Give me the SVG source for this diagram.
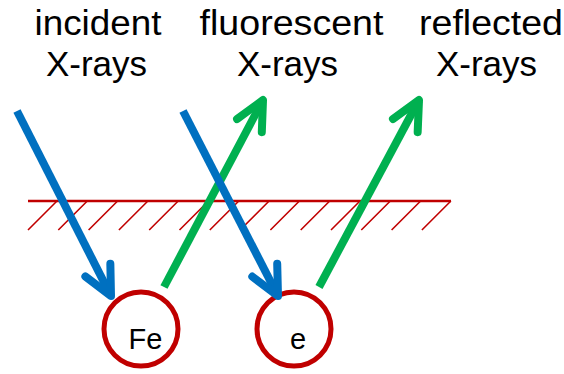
<svg xmlns="http://www.w3.org/2000/svg" width="564" height="374" viewBox="0 0 564 374">
<style>
.lbl{font-family:"Liberation Sans",Arial,sans-serif;font-size:35px;fill:#000;text-anchor:middle}
.atom{font-family:"Liberation Sans",Arial,sans-serif;font-size:29px;fill:#000;text-anchor:middle}
.hatch{stroke:#C00000;stroke-width:1.6;fill:none}
.atomc{fill:none;stroke:#C00000;stroke-width:5}
.blue{stroke:#0070C0;stroke-width:8;fill:none}
.green{stroke:#00B050;stroke-width:8;fill:none}
</style>
<defs>
<marker id="hb" markerUnits="userSpaceOnUse" orient="auto" refX="0" refY="0" markerWidth="60" markerHeight="60" overflow="visible">
<path d="M-29,-14 L0,0 L-29,14" fill="none" stroke="#0070C0" stroke-width="8" stroke-linecap="round" stroke-linejoin="round"/>
</marker>
<marker id="hg" markerUnits="userSpaceOnUse" orient="auto" refX="0" refY="0" markerWidth="60" markerHeight="60" overflow="visible">
<path d="M-29,-14 L0,0 L-29,14" fill="none" stroke="#00B050" stroke-width="8" stroke-linecap="round" stroke-linejoin="round"/>
</marker>
</defs>
<rect width="564" height="374" fill="#fff"/>
<g id="labels">
<text class="lbl" x="98" y="35" textLength="127" lengthAdjust="spacingAndGlyphs">incident</text>
<text class="lbl" x="96.5" y="76">X-rays</text>
<text class="lbl" x="291.5" y="35" textLength="184" lengthAdjust="spacingAndGlyphs">fluorescent</text>
<text class="lbl" x="287.5" y="76">X-rays</text>
<text class="lbl" x="491" y="35" textLength="144" lengthAdjust="spacingAndGlyphs">reflected</text>
<text class="lbl" x="486.5" y="76">X-rays</text>
</g>
<g id="surface" class="hatch">
<line x1="28" y1="201" x2="451" y2="201" stroke-width="2.5"/>
<path d="M28,230L57,201M58.3,230L87.3,201M88.6,230L117.6,201M118.9,230L147.9,201M149.2,230L178.2,201M179.5,230L208.5,201M209.8,230L238.8,201M240.1,230L269.1,201M270.4,230L299.4,201M300.7,230L329.7,201M331,230L360,201M361.3,230L390.3,201M391.6,230L420.6,201M421.9,230L450.9,201"/>
</g>
<g id="Fe">
<circle class="atomc" cx="141" cy="329" r="37"/>
<text class="atom" x="145.5" y="349">Fe</text>
</g>
<g id="e">
<circle class="atomc" cx="294" cy="329" r="37"/>
<text class="atom" x="298" y="349">e</text>
</g>
<g id="connectors">
<line class="green" x1="164" y1="287" x2="263" y2="100" marker-end="url(#hg)"/>
<line class="green" x1="319" y1="287" x2="419" y2="100" marker-end="url(#hg)"/>
<line class="blue" x1="17" y1="111" x2="111" y2="296" marker-end="url(#hb)"/>
<line class="blue" x1="183" y1="111" x2="278" y2="296" marker-end="url(#hb)"/>
</g>
</svg>
